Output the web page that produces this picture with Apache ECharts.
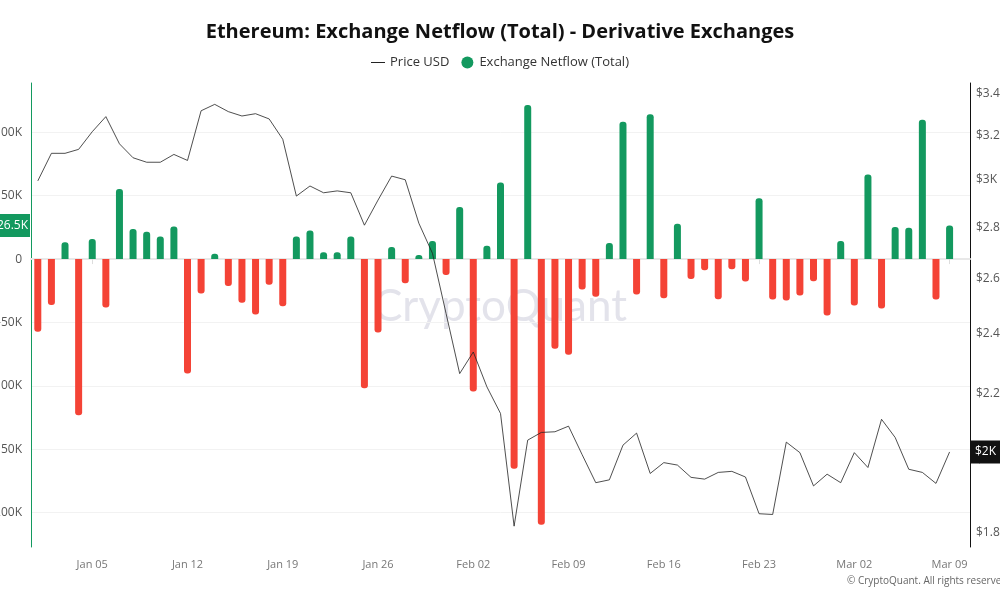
<!DOCTYPE html>
<html>
<head>
<meta charset="utf-8">
<script src="https://cdn.jsdelivr.net/npm/echarts@6/dist/echarts.min.js"></script>
<style>
html,body{margin:0;padding:0;background:#fff;}
#chart{width:1000px;height:600px;}
</style>
</head>
<body>
<div id="chart"></div>
<script>
var categories = [
 'Jan 01','Jan 02','Jan 03','Jan 04','Jan 05','Jan 06','Jan 07','Jan 08','Jan 09','Jan 10',
 'Jan 11','Jan 12','Jan 13','Jan 14','Jan 15','Jan 16','Jan 17','Jan 18','Jan 19','Jan 20',
 'Jan 21','Jan 22','Jan 23','Jan 24','Jan 25','Jan 26','Jan 27','Jan 28','Jan 29','Jan 30',
 'Jan 31','Feb 01','Feb 02','Feb 03','Feb 04','Feb 05','Feb 06','Feb 07','Feb 08','Feb 09',
 'Feb 10','Feb 11','Feb 12','Feb 13','Feb 14','Feb 15','Feb 16','Feb 17','Feb 18','Feb 19',
 'Feb 20','Feb 21','Feb 22','Feb 23','Feb 24','Feb 25','Feb 26','Feb 27','Feb 28','Mar 01',
 'Mar 02','Mar 03','Mar 04','Mar 05','Mar 06','Mar 07','Mar 08','Mar 09','Mar 10'
];
var priceUSD = [
 2995,3117,3117,3135,3216,3287,3160,3097,3077,3077,
 3112,3085,3315,3346,3311,3290,3301,3276,3181,2930,
 2973,2944,2952,2944,2809,2913,3016,3000,2817,2697,
 2472,2266,2338,2223,2139,1817,2058,2081,2083,2100,
 2015,1935,1943,2043,2079,1961,1992,1985,1950,1945,
 1964,1967,1951,1850,1848,2052,2021,1926,1959,1935,
 2021,1978,2121,2066,1973,1964,1933,2023,null
];
var netflow = [
 -57400,-36300,13200,-123200,15800,-38200,55300,23700,21600,17900,
 25800,-90300,-27100,4200,-21300,-34500,-43700,-20300,-37100,17900,
 22600,5300,5300,17900,-101800,-57900,9500,-19000,3200,14200,
 -12600,41100,-104500,10500,60500,-165300,121600,-209500,-70800,-75500,
 -24000,-29700,12600,108400,-27900,114200,-30800,27900,-15800,-8900,
 -31600,-8000,-17600,47900,-31800,-32600,-28700,-17400,-44500,14200,
 -36600,66800,-39000,25300,24700,110000,-31800,26500,null
];
var leftTicks = [-200000,-150000,-100000,-50000,0,50000,100000];
var rightTicks = [1800,2000,2200,2400,2600,2800,3000,3200,3400];

var GREEN = '#13995f';
var RED = '#f44336';

function fmtK(v){
  if (v === 0) return '0';
  return parseFloat((v/1000).toFixed(1)) + 'K';
}
function fmtUSD(v){
  return '$' + parseFloat((v/1000).toFixed(1)) + 'K';
}
function lastValue(arr){
  for (var i = arr.length - 1; i >= 0; i--) { if (arr[i] != null) return arr[i]; }
  return null;
}

var barData = netflow.map(function(v){
  if (v == null) return null;
  return {
    value: v,
    itemStyle: {
      color: v >= 0 ? GREEN : RED,
      borderRadius: v >= 0 ? [3,3,0,0] : [0,0,3,3]
    }
  };
});

var chart = echarts.init(document.getElementById('chart'), null, {renderer:'canvas'});
chart.setOption({
  animation: false,
  backgroundColor: '#ffffff',
  textStyle: { fontFamily: 'Open Sans' },
  title: {
    text: 'Ethereum: Exchange Netflow (Total) - Derivative Exchanges',
    left: 'center',
    top: 17,
    textStyle: { fontFamily: 'Open Sans', fontWeight: 'bold', fontSize: 20, color: '#111' }
  },
  legend: {
    top: 51,
    left: 'center',
    itemGap: 12,
    itemWidth: 14,
    itemHeight: 12,
    textStyle: { fontFamily: 'Open Sans', fontSize: 13, color: '#333' },
    data: [
      { name: 'Price USD', icon: 'path://M0,6 L14,6 L14,7 L0,7 Z' },
      { name: 'Exchange Netflow (Total)', icon: 'circle' }
    ]
  },
  graphic: [
    {
      type: 'text', left: 'center', top: 285, z: -10, silent: true,
      style: { text: 'CryptoQuant', fontFamily: 'Lato', fontSize: 44, fill: '#e3e3eb' }
    },
    {
      type: 'text', right: -10, top: 576, silent: true,
      style: { text: '\u00a9 CryptoQuant. All rights reserved.', fontFamily: 'Open Sans', fontSize: 10, fill: '#666' }
    }
  ],
  grid: { left: 31, right: 30, top: 83, bottom: 53, containLabel: false, outerBoundsMode: 'none' },
  xAxis: {
    type: 'category',
    data: categories,
    boundaryGap: true,
    axisLine: { show: true, lineStyle: { color: '#e8e8e8', width: 2 } },
    axisTick: {
      show: true, alignWithLabel: true, length: 5,
      lineStyle: { color: '#dddddd' },
      interval: function(i){ return i % 7 === 4; }
    },
    axisLabel: {
      interval: function(i){ return i % 7 === 4; },
      color: '#777', fontSize: 11, margin: 12, fontFamily: 'Open Sans'
    },
    splitLine: { show: false }
  },
  yAxis: [
    {
      type: 'value',
      position: 'left',
      min: -227100,
      max: 138900,
      axisLine: { show: true, lineStyle: { color: GREEN, width: 1 } },
      axisTick: { show: false, customValues: leftTicks },
      axisLabel: { customValues: leftTicks, formatter: fmtK, color: '#555', fontSize: 12, margin: 9, fontFamily: 'Open Sans' },
      splitLine: { show: true, lineStyle: { color: '#f2f2f2', width: 1 } }
    },
    {
      type: 'log',
      position: 'right',
      logBase: 10,
      min: 1763,
      max: 3451,
      axisLine: { show: true, lineStyle: { color: '#111', width: 1 } },
      axisTick: { show: false, customValues: rightTicks },
      axisLabel: { customValues: rightTicks, formatter: fmtUSD, color: '#555', fontSize: 12, margin: 6, fontFamily: 'Open Sans' },
      splitLine: { show: false }
    }
  ],
  series: [
    {
      name: 'Price USD',
      type: 'line',
      yAxisIndex: 1,
      data: priceUSD,
      symbol: 'none',
      showSymbol: false,
      z: 4,
      color: '#222',
      lineStyle: { color: '#222', width: 0.8 },
      markLine: {
        silent: true, symbol: 'none', animation: false, z: 10,
        lineStyle: { color: 'rgba(0,0,0,0)', width: 1, type: 'solid' },
        label: {
          show: true,
          position: 'end', distance: 0,
          formatter: function(p){ return fmtUSD(p.value); },
          backgroundColor: '#111', color: '#fff', fontSize: 12, fontFamily: 'Open Sans',
          padding: [6, 6, 5, 5]
        },
        data: [{ yAxis: lastValue(priceUSD) }]
      }
    },
    {
      name: 'Exchange Netflow (Total)',
      type: 'bar',
      yAxisIndex: 0,
      data: barData,
      barWidth: 7,
      z: 2,
      color: GREEN,
      itemStyle: { color: GREEN },
      markLine: {
        silent: true, symbol: 'none', animation: false, z: 10,
        lineStyle: { color: 'rgba(0,0,0,0)', width: 1, type: 'solid' },
        label: {
          show: true,
          position: 'start', distance: 1,
          formatter: function(p){ return fmtK(p.value); },
          backgroundColor: GREEN, color: '#fff', fontSize: 12, fontFamily: 'Open Sans',
          padding: [6, 2, 5, 6]
        },
        data: [{ yAxis: lastValue(netflow) }]
      }
    }
  ]
});
</script>
</body>
</html>
